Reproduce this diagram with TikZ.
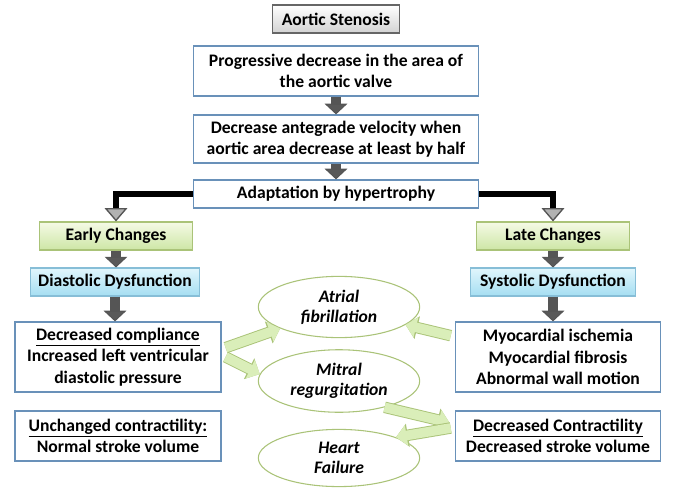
\documentclass[tikz,border=0pt]{standalone}
\usepackage{fontspec}
\setmainfont{Carlito}
\usepackage{tikz}
\usetikzlibrary{shapes,arrows.meta,positioning,calc}

\definecolor{boxline}{RGB}{105,145,185}
\definecolor{greenline}{RGB}{170,195,120}
\definecolor{greenfill}{RGB}{218,238,185}
\definecolor{greentop}{RGB}{245,250,230}
\definecolor{greenbot}{RGB}{205,230,165}
\definecolor{bluetop}{RGB}{225,246,252}
\definecolor{bluebot}{RGB}{165,222,242}
\definecolor{blueline}{RGB}{135,190,215}
\definecolor{darkgray}{RGB}{85,85,85}

\tikzset{
  whitebox/.style={draw=boxline, line width=0.9pt, fill=white, align=center, inner sep=2pt},
  titlebox/.style={draw=gray!80!black, line width=0.9pt, top color=white, bottom color=gray!35, align=center},
  greenbox/.style={draw=greenline, line width=0.8pt, top color=greentop, bottom color=greenbot, minimum width=115pt, minimum height=21pt},
  bluebox/.style={draw=blueline, line width=0.8pt, top color=bluetop, bottom color=bluebot, minimum height=21pt},
  oval/.style={ellipse, draw=greenline, line width=0.8pt, fill=white, align=center, font=\bfseries\itshape\fontsize{13.2}{15}\selectfont, minimum width=121pt},
  downarrow/.style={draw=darkgray, line width=7pt, -{Triangle[width=17pt, length=8pt, fill=gray!70!black, line width=0.8pt]}},
  elbow/.style={draw=black, line width=3.8pt, -{Triangle[width=17pt, length=10pt, fill=gray!60, color=darkgray, line width=1pt]}},
  sidearrow/.style={draw=greenfill, line width=7.2pt, -{Triangle[width=15pt, length=8pt]},
    preaction={draw=greenline, line width=8.6pt, -{Triangle[width=17pt, length=9pt]}}}
}

\begin{document}
\begin{tikzpicture}[x=0.75pt, y=-0.75pt, font=\bfseries\fontsize{13.2}{16}\selectfont]
  \useasboundingbox (0,0) rectangle (677,495);

  % centre column
  \node[titlebox, minimum width=95pt, minimum height=21pt] (stenosis) at (336,19) {Aortic Stenosis};
  \node[whitebox, minimum width=214pt, minimum height=37.5pt] (area) at (336,71) {Progressive decrease in the area of\\the aortic valve};
  \node[whitebox, minimum width=214pt, minimum height=36pt] (velocity) at (336,139) {Decrease antegrade velocity when\\aortic area decrease at least by half};
  \node[whitebox, minimum width=214pt, minimum height=21pt] (adapt) at (336,194) {Adaptation by hypertrophy};

  % left and right branches
  \node[greenbox] (early) at (116,236) {Early Changes};
  \node[greenbox] (late) at (553,236) {Late Changes};
  \node[bluebox, minimum width=127pt] (diast) at (115,282) {Diastolic Dysfunction};
  \node[bluebox, minimum width=124pt] (syst) at (553,282) {Systolic Dysfunction};
  \node[whitebox, minimum width=154.5pt, minimum height=52.5pt] (compl) at (118,357) {\underline{Decreased compliance}\\Increased left ventricular\\diastolic pressure};
  \node[whitebox, minimum width=154.5pt, minimum height=37.5pt] (unchanged) at (118,436) {\underline{Unchanged contractility:}\\Normal stroke volume};
  \node[whitebox, minimum width=154pt, minimum height=52.5pt] (ischemia) at (558,357) {Myocardial ischemia\\Myocardial fibrosis\\Abnormal wall motion};
  \node[whitebox, minimum width=154pt, minimum height=37.5pt] (contract) at (558,436) {\underline{Decreased Contractility}\\Decreased stroke volume};

  % complications
  \node[oval, minimum height=40.5pt] (atrial) at (339,307) {Atrial\\fibrillation};
  \node[oval, minimum height=42pt] (mitral) at (339,381) {Mitral\\regurgitation};
  \node[oval, minimum height=41pt] (failure) at (339,458) {Heart\\Failure};

  \draw[downarrow] (area.south) -- (velocity.north);
  \draw[downarrow] (velocity.south) -- (adapt.north);
  \draw[elbow] (adapt.west) -| (early.north);
  \draw[elbow] (adapt.east) -| (late.north);
  \draw[downarrow] (early.south) -- (early.south |- diast.north);
  \draw[downarrow] (diast.south) -- (diast.south |- compl.north);
  \draw[downarrow] (late.south) -- (late.south |- syst.north);
  \draw[downarrow] (syst.south) -- (syst.south |- ischemia.north);

  \draw[sidearrow] ([xshift=3pt, yshift=7pt]compl.east) -- (atrial.200);
  \draw[sidearrow] ([xshift=3pt, yshift=0pt]compl.east) -- (mitral.175);
  \draw[sidearrow] ([xshift=-3pt, yshift=16pt]ischemia.west) -- (atrial.345);
  \draw[sidearrow] (mitral.330) -- ([xshift=-4pt, yshift=10pt]contract.west);
  \draw[sidearrow] ([xshift=-3pt, yshift=6pt]contract.west) -- (failure.20);
\end{tikzpicture}
\end{document}
